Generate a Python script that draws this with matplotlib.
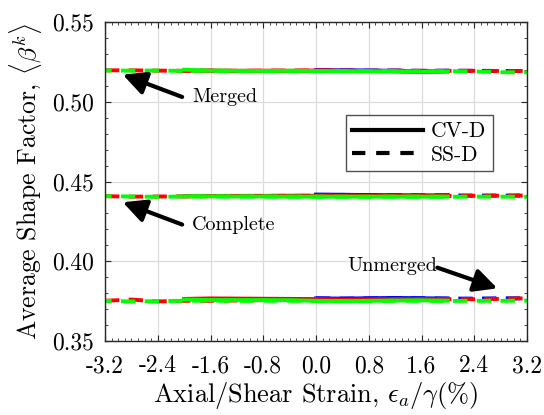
import matplotlib
matplotlib.use("Agg")
import matplotlib.pyplot as plt
from matplotlib.ticker import MultipleLocator, FixedLocator, FixedFormatter
from matplotlib.lines import Line2D

plt.rcParams['font.family'] = ['cmr10', 'DejaVu Serif']
plt.rcParams['mathtext.fontset'] = 'cm'
plt.rcParams['axes.formatter.use_mathtext'] = True

# ---- data ----
x_full = [-3.2, -2.8, -2.4, -2.0, -1.6, -1.2, -0.8, -0.4, 0.0, 0.4, 0.8, 1.2, 1.6, 2.0, 2.4, 2.8, 3.2]
x_half = [0.0, 0.4, 0.8, 1.2, 1.6, 2.0, 2.4, 2.8, 3.2]
x_cv = [-2.0, -1.6, -1.2, -0.8, -0.4, 0.0, 0.4, 0.8, 1.2, 1.6, 2.0]
x_cv_half = [0.0, 0.4, 0.8, 1.2, 1.6, 2.0]

# Merged
m_red_ss = [0.5197, 0.5197, 0.5195, 0.5194, 0.5195, 0.5194, 0.5195, 0.5196, 0.5196, 0.5195, 0.5194, 0.5195, 0.5194, 0.5194, 0.5194, 0.5193, 0.5193]
m_green_ss = [0.5196, 0.5195, 0.5196, 0.5193, 0.5195, 0.5193, 0.5193, 0.5194, 0.5193, 0.5192, 0.5192, 0.5191, 0.5190, 0.5192, 0.5190, 0.5185, 0.5184]
m_blue_ss = [0.5197, 0.5196, 0.5195, 0.5196, 0.5194, 0.5195, 0.5194, 0.5193, 0.5192]
m_red_cv = [0.5194, 0.5196, 0.5194, 0.5195, 0.5194, 0.5196, 0.5194, 0.5193, 0.5190, 0.5186, 0.5190]
m_green_cv = [0.5201, 0.5195, 0.5194, 0.5193, 0.5194, 0.5193, 0.5192, 0.5191, 0.5191, 0.5188, 0.5190]
m_blue_cv = [0.5198, 0.5197, 0.5196, 0.5194, 0.5190, 0.5192]

# Complete
c_red_ss = [0.4408, 0.4405, 0.4406, 0.4407, 0.4408, 0.4409, 0.4410, 0.4410, 0.4411, 0.4410, 0.4410, 0.4410, 0.4409, 0.4409, 0.4410, 0.4411, 0.4412]
c_green_ss = [0.4408, 0.4406, 0.4404, 0.4406, 0.4406, 0.4406, 0.4406, 0.4405, 0.4405, 0.4404, 0.4404, 0.4405, 0.4405, 0.4404, 0.4405, 0.4405, 0.4404]
c_blue_ss = [0.4416, 0.4416, 0.4414, 0.4413, 0.4413, 0.4413, 0.4412, 0.4412, 0.4412]
c_red_cv = [0.4407, 0.4409, 0.4410, 0.4410, 0.4411, 0.4411, 0.4411, 0.4411, 0.4410, 0.4410, 0.4410]
c_green_cv = [0.4407, 0.4407, 0.4406, 0.4406, 0.4405, 0.4405, 0.4405, 0.4405, 0.4405, 0.4405, 0.4405]
c_blue_cv = [0.4418, 0.4417, 0.4415, 0.4414, 0.4413, 0.4413]

# Unmerged
u_red_ss = [0.3752, 0.3760, 0.3748, 0.3752, 0.3752, 0.3754, 0.3756, 0.3758, 0.3758, 0.3757, 0.3758, 0.3760, 0.3762, 0.3762, 0.3762, 0.3764, 0.3768]
u_green_ss = [0.3752, 0.3748, 0.3750, 0.3752, 0.3753, 0.3751, 0.3752, 0.3752, 0.3751, 0.3750, 0.3751, 0.3752, 0.3752, 0.3751, 0.3752, 0.3752, 0.3753]
u_blue_ss = [0.3768, 0.3766, 0.3767, 0.3769, 0.3768, 0.3766, 0.3766, 0.3768, 0.3768]
u_red_cv = [0.3764, 0.3767, 0.3766, 0.3765, 0.3764, 0.3763, 0.3760, 0.3761, 0.3763, 0.3762, 0.3761]
u_green_cv = [0.3760, 0.3757, 0.3757, 0.3757, 0.3756, 0.3752, 0.3750, 0.3752, 0.3754, 0.3755, 0.3753]
u_blue_cv = [0.3767, 0.3766, 0.3768, 0.3770, 0.3768, 0.3766]

xticks = [-3.2, -2.4, -1.6, -0.8, 0.0, 0.8, 1.6, 2.4, 3.2]
xticklabels = ['-3.2', '-2.4', '-1.6', '-0.8', '0.0', '0.8', '1.6', '2.4', '3.2']
yticks = [0.35, 0.40, 0.45, 0.50, 0.55]
yticklabels = ['0.35', '0.40', '0.45', '0.50', '0.55']

fig = plt.figure(figsize=(5.44, 4.15), dpi=100)
ax = fig.add_axes([105/544, 1-341/415, 422/544, 319/415])

BLUE, RED, GREEN = (0, 0, 1), (1, 0, 0), (0, 1, 0)
lw = 2.8
dash = (0, (3.7, 2.4))
dash_g = (2.0, (3.7, 2.4))

groups = [
    (m_blue_cv, m_red_cv, m_green_cv, m_blue_ss, m_red_ss, m_green_ss),
    (c_blue_cv, c_red_cv, c_green_cv, c_blue_ss, c_red_ss, c_green_ss),
    (u_blue_cv, u_red_cv, u_green_cv, u_blue_ss, u_red_ss, u_green_ss),
]
for bcv, rcv, gcv, bss, rss, gss in groups:
    ax.plot(x_cv_half, bcv, color=BLUE, lw=lw)
    ax.plot(x_half, bss, color=BLUE, lw=lw, linestyle=dash)
    ax.plot(x_cv, rcv, color=RED, lw=lw)
    ax.plot(x_full, rss, color=RED, lw=lw, linestyle=dash)
    ax.plot(x_cv, gcv, color=GREEN, lw=lw)
    ax.plot(x_full, gss, color=GREEN, lw=lw, linestyle=dash_g)

ax.set_xlim(-3.2, 3.2)
ax.set_ylim(0.35, 0.55)
ax.xaxis.set_major_locator(FixedLocator(xticks))
ax.xaxis.set_major_formatter(FixedFormatter(xticklabels))
ax.yaxis.set_major_locator(FixedLocator(yticks))
ax.yaxis.set_major_formatter(FixedFormatter(yticklabels))
ax.xaxis.set_minor_locator(MultipleLocator(0.1))
ax.yaxis.set_minor_locator(MultipleLocator(0.01))
ax.tick_params(which='both', direction='in', top=True, right=True, colors='#262626', labelcolor='black')
ax.tick_params(axis='x', which='major', length=4, width=0.8, labelsize=17, pad=10)
ax.tick_params(axis='y', which='major', length=4, width=0.8, labelsize=17, pad=8)
ax.tick_params(which='minor', length=2.2, width=0.6)
ax.grid(True, which='major', color='#dcdcdc', lw=0.9)
ax.set_axisbelow(True)
for s in ax.spines.values():
    s.set_color('#262626')
    s.set_linewidth(1.0)

ax.set_xlabel(r'Axial/Shear Strain, $\epsilon_a/\gamma(\%)$', fontsize=19, labelpad=2)
ax.set_ylabel(r'Average Shape Factor, $\langle\beta^k\rangle$', fontsize=18.5, labelpad=6)

arrow = dict(arrowstyle='-|>,head_length=1.4,head_width=0.7', color='black', lw=3.0,
             shrinkA=0, shrinkB=0)
ax.annotate('', xy=(-2.93, 0.517), xytext=(-2.03, 0.503), arrowprops=arrow)
ax.text(-1.88, 0.503, 'Merged', fontsize=14.5, va='center', ha='left')
ax.annotate('', xy=(-2.93, 0.437), xytext=(-2.03, 0.423), arrowprops=arrow)
ax.text(-1.88, 0.423, 'Complete', fontsize=14.5, va='center', ha='left')
ax.annotate('', xy=(2.75, 0.383), xytext=(1.84, 0.396), arrowprops=arrow)
ax.text(1.84, 0.397, 'Unmerged', fontsize=14.5, va='center', ha='right')

handles = [Line2D([], [], color='black', lw=3.0),
           Line2D([], [], color='black', lw=3.0, linestyle=(0, (3.2, 2.6)))]
leg = ax.legend(handles, ['CV-D', 'SS-D'], loc='upper right', bbox_to_anchor=(0.919, 0.708),
                fontsize=15.5, frameon=True, fancybox=False, edgecolor='#262626',
                handlelength=3.3, handletextpad=0.35, borderpad=0.3, labelspacing=0.2,
                borderaxespad=0)
leg.get_frame().set_linewidth(1.0)

fig.savefig('out.png', dpi=100)
